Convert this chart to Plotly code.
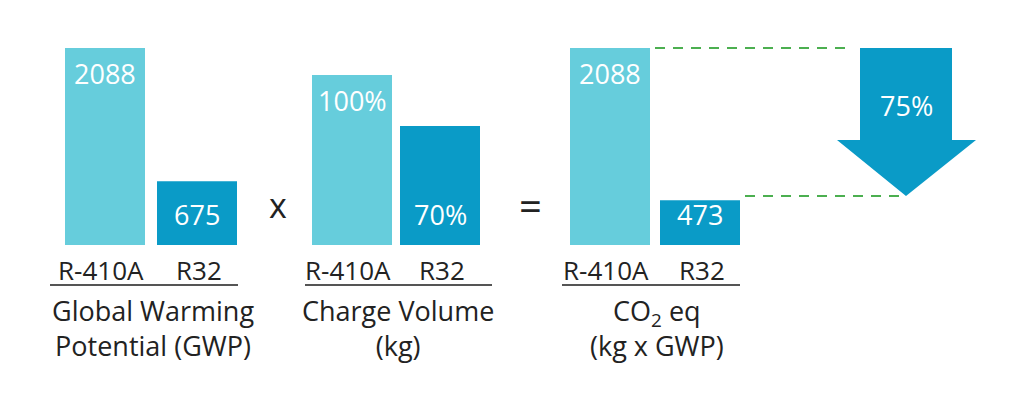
import plotly.graph_objects as go

## Chart values
refrigerants = ["R-410A", "R32"]
gwp = [2088, 675]
charge = [100, 70]
co2 = [2088, 473]
reduction = "75%"
captions = ["Global Warming<br>Potential (GWP)", "Charge Volume<br>(kg)", "CO<sub>2</sub> eq<br>(kg x GWP)"]

LIGHT = "#66cddc"
DARK = "#0a9bc7"
GREEN = "#4caf50"
FONT = "Open Sans"

H = 407
base = H - 245  # bar bottom in plot units (y up)
groups = [
    (gwp, [105, 197], 197 / 2088, ["{}", "{}"], 0),
    (charge, [352, 440], 1.7, ["{}%", "{}%"], 1),
    (co2, [610, 700], 197 / 2088, ["{}", "{}"], 2),
]

fig = go.Figure()
ann = []
for vals, xs, scale, fmt, gi in groups:
    heights = [v * scale for v in vals]
    fig.add_trace(go.Bar(x=xs, y=heights, base=[base, base], width=80,
                         marker=dict(color=[LIGHT, DARK], line_width=0),
                         showlegend=False, hoverinfo="skip"))
    ## light bar: label near the top, dark bar: label near the bottom
    ann.append(dict(x=xs[0], y=base + heights[0] - 25, text=fmt[0].format(vals[0]), showarrow=False,
                    font=dict(color="white", size=27, family=FONT)))
    ann.append(dict(x=xs[1], y=base + 31, text=fmt[1].format(vals[1]), showarrow=False,
                    font=dict(color="white", size=27, family=FONT)))
    ann.append(dict(x=xs[0] - 4, y=H - 270, text=refrigerants[0], showarrow=False,
                    font=dict(color="#222", size=26, family=FONT)))
    ann.append(dict(x=xs[1] + 2, y=H - 270, text=refrigerants[1], showarrow=False,
                    font=dict(color="#222", size=26, family=FONT)))
    ann.append(dict(x=(xs[0] + xs[1]) / 2 + 2, y=H - 328, text=captions[gi], showarrow=False,
                    font=dict(color="#222", size=27, family=FONT)))

ann.append(dict(x=278, y=H - 205, text="x", showarrow=False, font=dict(color="#222", size=34, family=FONT)))
ann.append(dict(x=530, y=H - 205, text="=", showarrow=False, font=dict(color="#222", size=40, family=FONT)))
ann.append(dict(x=906, y=H - 105, text=reduction, showarrow=False, font=dict(color="white", size=27, family=FONT)))

shapes = []
for x0, x1 in [(50, 238), (305, 492), (562, 740)]:
    shapes.append(dict(type="line", x0=x0, x1=x1, y0=H - 285, y1=H - 285, line=dict(color="#555", width=2)))
shapes.append(dict(type="line", x0=655, x1=850, y0=H - 48, y1=H - 48, line=dict(color=GREEN, width=2, dash="10px,8px")))
shapes.append(dict(type="line", x0=745, x1=905, y0=H - 196, y1=H - 196, line=dict(color=GREEN, width=2, dash="10px,8px")))
shapes.append(dict(type="path",
                   path=f"M860,{H-48} L952,{H-48} L952,{H-140} L976,{H-140} L906,{H-196} L837,{H-140} L860,{H-140} Z",
                   fillcolor=DARK, line_width=0))

fig.update_layout(
    width=1024, height=407, margin=dict(l=0, r=0, t=0, b=0),
    plot_bgcolor="white", paper_bgcolor="white",
    # page body has an 8px margin, so offset the ranges to keep pixel alignment
    xaxis=dict(range=[8, 1032], visible=False),
    yaxis=dict(range=[-8, H - 8], visible=False),
    annotations=ann, shapes=shapes, barmode="overlay",
)
fig.write_html("out.html")
